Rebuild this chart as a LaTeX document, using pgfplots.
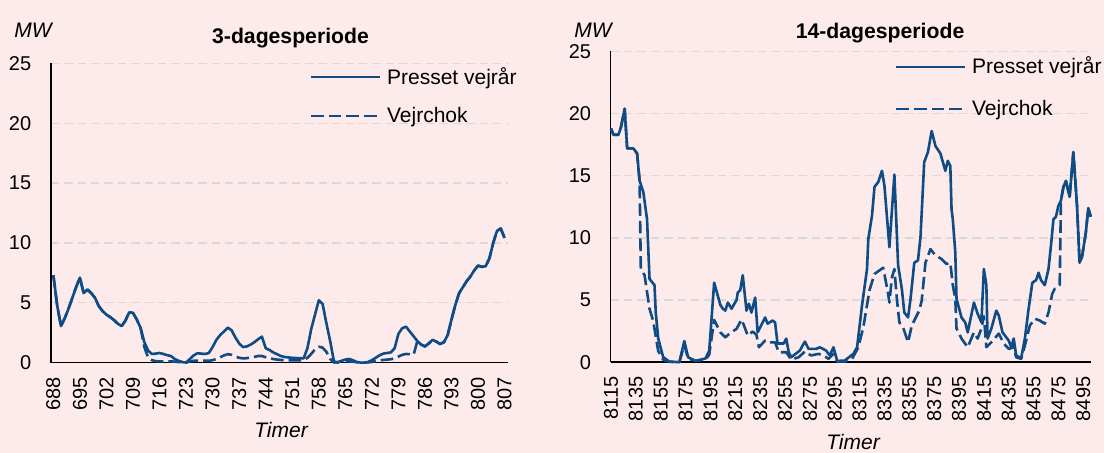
\documentclass[border=0pt]{standalone}
\usepackage{fontspec}
\setmainfont{Liberation Sans}
\usepackage{pgfplots}
\usepackage{pgfplotstable}
\pgfplotsset{compat=1.18}
\definecolor{bg}{RGB}{252,235,234}
\definecolor{ln}{RGB}{15,76,133}
\definecolor{gr}{RGB}{217,217,217}

% 3-dagesperiode: hour, Presset vejrår, Vejrchok
\pgfplotstableread{
h s d
688 7.3 7.3
689 4.8 4.8
690 3.05 3.05
691 3.7 3.7
692 4.5 4.5
693 5.4 5.4
694 6.3 6.3
695 7.1 7.1
696 5.8 5.8
697 6.1 6.1
698 5.8 5.8
699 5.4 5.4
700 4.7 4.7
701 4.3 4.3
702 4.0 4.0
703 3.8 3.8
704 3.55 3.55
705 3.25 3.25
706 3.05 3.05
707 3.5 3.5
708 4.2 4.2
709 4.15 4.15
710 3.6 3.6
711 2.9 2.9
712 1.7 1.3
713 1.0 0.4
714 0.72 0.2
715 0.75 0.12
716 0.8 0.1
717 0.72 0.1
718 0.62 0.1
719 0.55 0.1
720 0.3 0.08
721 0.15 0.05
722 0.05 0.02
723 0.0 0.0
724 0.3 0.1
725 0.6 0.15
726 0.78 0.15
727 0.75 0.15
728 0.72 0.15
729 0.8 0.15
730 1.3 0.2
731 1.9 0.3
732 2.3 0.45
733 2.6 0.6
734 2.92 0.7
735 2.7 0.65
736 2.1 0.5
737 1.6 0.4
738 1.3 0.35
739 1.35 0.37
740 1.5 0.42
741 1.7 0.48
742 1.95 0.55
743 2.17 0.55
744 1.2 0.45
745 1.05 0.35
746 0.85 0.3
747 0.7 0.25
748 0.55 0.22
749 0.47 0.2
750 0.43 0.18
751 0.4 0.18
752 0.38 0.18
753 0.37 0.18
754 0.35 0.2
755 1.2 0.4
756 2.8 0.72
757 4.0 1.1
758 5.2 1.33
759 4.9 1.25
760 3.3 0.9
761 1.8 0.3
762 0.1 0.0
763 0.0 0.05
764 0.15 0.1
765 0.25 0.1
766 0.3 0.1
767 0.2 0.08
768 0.05 0.03
769 0.0 0.0
770 0.0 0.0
771 0.05 0.02
772 0.2 0.05
773 0.4 0.12
774 0.6 0.18
775 0.75 0.22
776 0.8 0.25
777 0.85 0.28
778 1.2 0.35
779 2.4 0.5
780 2.87 0.65
781 3.0 0.72
782 2.6 0.7
783 2.2 0.65
784 1.8 1.8
785 1.5 1.5
786 1.35 1.35
787 1.6 1.6
788 1.9 1.9
789 1.75 1.75
790 1.55 1.55
791 1.7 1.7
792 2.3 2.3
793 3.6 3.6
794 4.8 4.8
795 5.8 5.8
796 6.3 6.3
797 6.8 6.8
798 7.2 7.2
799 7.7 7.7
800 8.1 8.1
801 8.0 8.0
802 8.05 8.05
803 8.7 8.7
804 10.0 10.0
805 11.0 11.0
806 11.2 11.2
807 10.4 10.4
}\leftdata

% 14-dagesperiode: Presset vejrår
\pgfplotstableread{
h v
8115 18.8
8117 18.3
8121 18.3
8123 18.9
8126 20.4
8128 17.2
8133 17.2
8136 16.8
8138 14.6
8141 13.7
8144 11.5
8146 6.7
8150 6.2
8151 4.0
8153 1.9
8157 0.4
8162 0.05
8170 0.0
8174 1.7
8177 0.4
8183 0.1
8191 0.3
8194 0.9
8198 6.4
8203 4.6
8205 4.3
8207 4.15
8209 4.8
8212 4.3
8216 5.0
8217 5.6
8219 5.8
8221 7.0
8224 4.15
8226 4.7
8228 4.0
8231 5.2
8233 2.4
8239 3.6
8241 3.1
8245 3.35
8247 3.2
8249 1.5
8254 1.5
8256 1.9
8258 0.8
8260 0.4
8267 0.94
8271 1.66
8274 1.07
8280 1.07
8283 1.2
8288 0.94
8291 0.54
8294 1.2
8297 0.1
8303 0.13
8310 0.67
8313 1.2
8317 4.6
8321 7.5
8322 9.9
8325 11.8
8327 14.1
8330 14.5
8333 15.4
8335 14.2
8339 9.25
8343 15.1
8346 7.8
8349 5.9
8351 4.0
8354 3.6
8356 5.1
8359 8.0
8362 8.2
8364 10.05
8367 16.1
8370 16.9
8373 18.6
8376 17.4
8380 16.8
8384 15.4
8386 16.2
8388 15.8
8389 12.3
8390 11.5
8392 8.85
8393 5.1
8397 3.6
8400 3.2
8402 2.4
8407 4.8
8410 3.9
8413 3.2
8415 7.5
8417 6.2
8418 1.9
8421 2.7
8425 4.15
8427 3.75
8430 2.4
8435 1.74
8437 1.2
8439 1.9
8441 0.54
8445 0.32
8448 1.9
8451 4.3
8454 6.4
8457 6.6
8459 7.2
8461 6.6
8464 6.2
8467 7.5
8469 9.4
8471 11.5
8473 11.7
8475 12.6
8477 13.0
8479 14.1
8481 14.6
8484 13.3
8487 16.9
8490 12.5
8492 8.0
8494 8.5
8497 10.4
8499 12.4
8501 11.7
}\rightsolid

% 14-dagesperiode: Vejrchok
\pgfplotstableread{
h v
8115 18.8
8117 18.3
8121 18.3
8123 18.9
8126 20.4
8128 17.2
8133 17.2
8136 16.8
8138 14.6
8139 7.5
8142 7.0
8146 4.3
8149 3.3
8153 0.9
8157 0.2
8162 0.03
8170 0.0
8174 1.4
8177 0.3
8183 0.1
8191 0.2
8194 0.6
8198 3.4
8200 3.0
8203 2.4
8207 2.0
8211 2.36
8216 2.68
8220 3.43
8222 2.95
8225 2.14
8229 2.47
8232 2.2
8234 1.2
8239 1.74
8243 1.6
8247 1.6
8250 0.8
8256 0.8
8260 0.2
8266 0.4
8271 0.86
8276 0.54
8282 0.67
8286 0.54
8290 0.27
8294 0.67
8297 0.05
8303 0.05
8309 0.27
8314 1.2
8318 2.8
8323 5.8
8327 7.1
8334 7.6
8338 5.5
8339 4.8
8341 6.8
8343 7.5
8345 5.1
8347 3.2
8350 2.8
8354 1.6
8357 2.95
8363 4.15
8365 4.96
8368 8.0
8372 9.1
8376 8.6
8381 8.3
8385 7.9
8388 8.0
8390 6.2
8392 5.1
8393 2.7
8397 1.9
8402 1.2
8407 2.4
8410 1.9
8413 2.7
8415 3.7
8417 1.2
8421 1.6
8427 2.3
8431 1.5
8435 1.07
8439 1.2
8441 0.4
8445 0.27
8448 1.34
8452 2.95
8456 3.5
8460 3.35
8464 3.1
8467 4.0
8470 5.5
8472 5.9
8476 6.2
8477 13.0
8479 14.1
8481 14.6
8484 13.3
8487 16.9
8490 12.5
8492 8.0
8494 8.5
8497 10.4
8499 12.4
8501 11.7
}\rightdashed

\pgfplotsset{
  mystyle/.style={
    scale only axis, enlargelimits=false, clip=false,
    axis x line=bottom, axis y line=left,
    axis line style={-, black, line width=0.85pt},
    ymin=0, ymax=25, ytick={0,5,...,25},
    ymajorgrids,
    grid style={gr, line width=0.65pt, dash pattern=on 4.2pt off 2.5pt},
    major tick length=0pt,
    tick style={draw=none},
    /pgf/number format/assume math mode=true,
    /pgf/number format/1000 sep={},
    ticklabel style={font=\fontsize{10}{12}\selectfont},
    yticklabel style={xshift=-6.2pt},
    xticklabel style={yshift=-3.7pt, rotate=90, anchor=east},
    legend image code/.code={\draw[##1] (0pt,0pt) -- (34.25pt,0pt);},
    legend style={draw=none, fill=none, inner sep=0pt, outer sep=0pt,
      anchor=west, font=\fontsize{10.5}{12}\selectfont,
      column sep=1pt, cells={anchor=west, inner sep=0pt}},
    legend cell align=left,
    every axis title shift=0pt,
    title style={font=\bfseries\fontsize{10.6}{12}\selectfont, anchor=base},
    xlabel style={font=\itshape\fontsize{10.5}{12}\selectfont, anchor=base},
  },
  sol/.style={ln, line width=1.3pt, line join=round},
  das/.style={ln, line width=1.3pt, line join=round, dash pattern=on 6.3pt off 2.5pt},
}

\begin{document}
\begin{tikzpicture}
\fill[bg] (0,0) rectangle (552pt,226.5pt);

\begin{axis}[mystyle,
  at={(25.35pt,45.2pt)}, anchor=south west,
  width=228.65pt, height=149.65pt,
  xmin=687.3, xmax=807.9, xtick={688,695,...,807},
  title={3-dagesperiode},
  title style={at={(axis description cs:0.5244,1.0678)}},
  xlabel={Timer},
  xlabel style={at={(axis description cs:0.5036,0)}, yshift=-37.7pt},
  legend style={at={(axis description cs:0.567,0.8904)}, row sep=5.9pt},
]
\addplot[sol] table[x=h, y=s] {\leftdata};
\addplot[das] table[x=h, y=d] {\leftdata};
\legend{Presset vejrår, Vejrchok}
\node[anchor=base, font=\itshape\fontsize{10.5}{12}\selectfont] at (axis description cs:-0.0387,1.0873) {MW};
\end{axis}

\begin{axis}[mystyle,
  at={(305.25pt,45.4pt)}, anchor=south west,
  width=240.25pt, height=155.35pt,
  xmin=8114.6, xmax=8501.2, xtick={8115,8135,...,8495},
  title={14-dagesperiode},
  title style={at={(axis description cs:0.561,1.0425)}},
  xlabel={Timer},
  xlabel style={at={(axis description cs:0.5047,0)}, yshift=-43.9pt},
  legend style={at={(axis description cs:0.5921,0.8841)}, row sep=7.5pt},
]
\addplot[sol] table[x=h, y=v] {\rightsolid};
\addplot[das] table[x=h, y=v] {\rightdashed};
\legend{Presset vejrår, Vejrchok}
\node[anchor=base, font=\itshape\fontsize{10.5}{12}\selectfont] at (axis description cs:-0.0364,1.0457) {MW};
\end{axis}

\pgfresetboundingbox
\path[use as bounding box] (0,0) rectangle (552pt,226.5pt);
\end{tikzpicture}
\end{document}
